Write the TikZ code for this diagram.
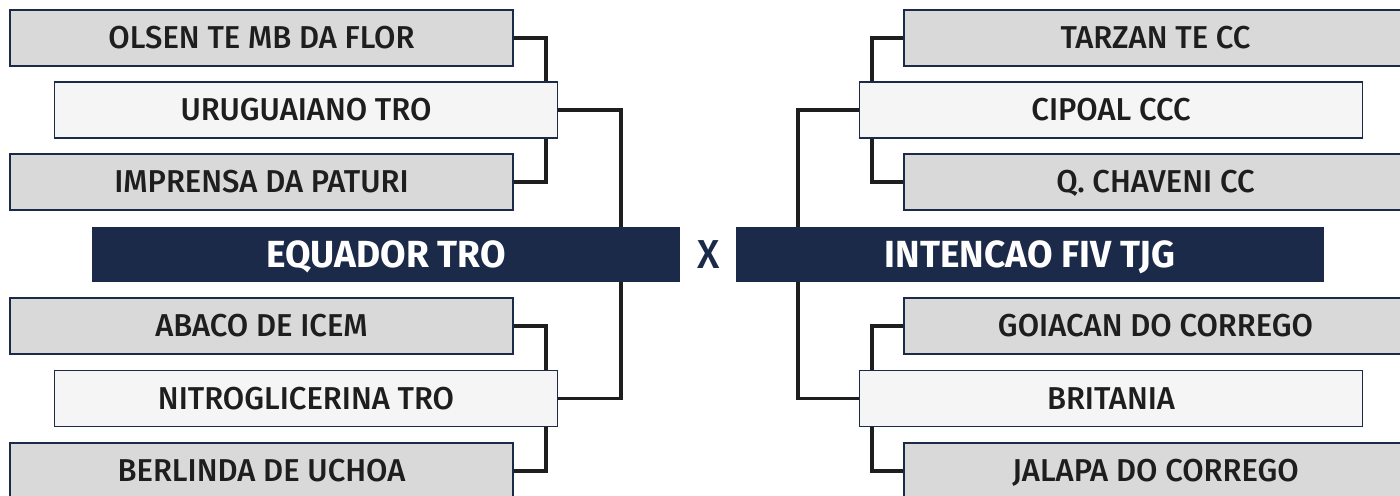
\documentclass[tikz,border=0pt]{standalone}
\usepackage{fontspec}
\setmainfont{Fira Sans}[UprightFont={* Medium}, BoldFont={* Bold}, FakeStretch=0.98]
\usepackage{tikz}
\usetikzlibrary{calc}

\definecolor{navy}{HTML}{1B2A48}
\definecolor{boxgray}{HTML}{D9D9D9}
\definecolor{boxlight}{HTML}{F5F5F5}
\definecolor{ink}{HTML}{1E1E1E}

\tikzset{
  team/.style={draw=navy, line width=0.8pt, fill=boxgray, text=ink,
    minimum width=10.06cm, minimum height=1.12cm, inner sep=0pt,
    text height=12.4pt, text depth=0pt, font=\fontsize{18}{20}\selectfont},
  seed/.style={team, fill=boxlight},
  finalist/.style={fill=navy, text=white, minimum width=11.76cm,
    minimum height=1.1cm, inner sep=0pt, text height=14.8pt, text depth=0pt,
    font=\fontsize{21.5}{24}\selectfont\bfseries},
  link/.style={ink, line width=2.2pt}
}

\begin{document}
\begin{tikzpicture}[x=0.02cm, y=-0.02cm]
  \useasboundingbox (0,0) rectangle (1400,495);

  % left bracket
  \node[team] (olsen) at (261.5,38) {OLSEN TE MB DA FLOR};
  \node[seed] (uru) at (306,110) {URUGUAIANO TRO};
  \node[team] (imp) at (261.5,182) {IMPRENSA DA PATURI};
  \node[finalist] (equ) at (386,254.5) {EQUADOR TRO};
  \node[team] (abaco) at (261.5,326) {ABACO DE ICEM};
  \node[seed] (nitro) at (306,398.5) {NITROGLICERINA TRO};
  \node[team] (berl) at (261.5,471) {BERLINDA DE UCHOA};

  % right bracket
  \node[team] (tarzan) at (1155.5,38) {TARZAN TE CC};
  \node[seed] (cip) at (1111,110) {CIPOAL CCC};
  \node[team] (chav) at (1155.5,182) {Q. CHAVENI CC};
  \node[finalist] (int) at (1030,254.5) {INTENCAO FIV TJG};
  \node[team] (goi) at (1155.5,326) {GOIACAN DO CORREGO};
  \node[seed] (brit) at (1111,398.5) {BRITANIA};
  \node[team] (jal) at (1155.5,471) {JALAPA DO CORREGO};

  \node[text=navy, font=\fontsize{23}{26}\selectfont, text height=15.8pt,
    text depth=0pt, inner sep=0pt] (vs) at (709,255) {X};

  % left connectors
  \draw[link] (olsen.east) -| ([xshift=-0.24cm]uru.north east);
  \draw[link] (imp.east) -| ([xshift=-0.24cm]uru.south east);
  \draw[link] (uru.east) -| ([xshift=-1.18cm]equ.north east);
  \draw[link] ([xshift=-1.18cm]equ.south east) |- (nitro.east);
  \draw[link] (abaco.east) -| ([xshift=-0.24cm]nitro.north east);
  \draw[link] (berl.east) -| ([xshift=-0.24cm]nitro.south east);

  % right connectors
  \draw[link] (tarzan.west) -| ([xshift=0.26cm]cip.north west);
  \draw[link] (chav.west) -| ([xshift=0.26cm]cip.south west);
  \draw[link] (cip.west) -| ([xshift=1.24cm]int.north west);
  \draw[link] ([xshift=1.24cm]int.south west) |- (brit.west);
  \draw[link] (goi.west) -| ([xshift=0.26cm]brit.north west);
  \draw[link] (jal.west) -| ([xshift=0.26cm]brit.south west);
\end{tikzpicture}
\end{document}
